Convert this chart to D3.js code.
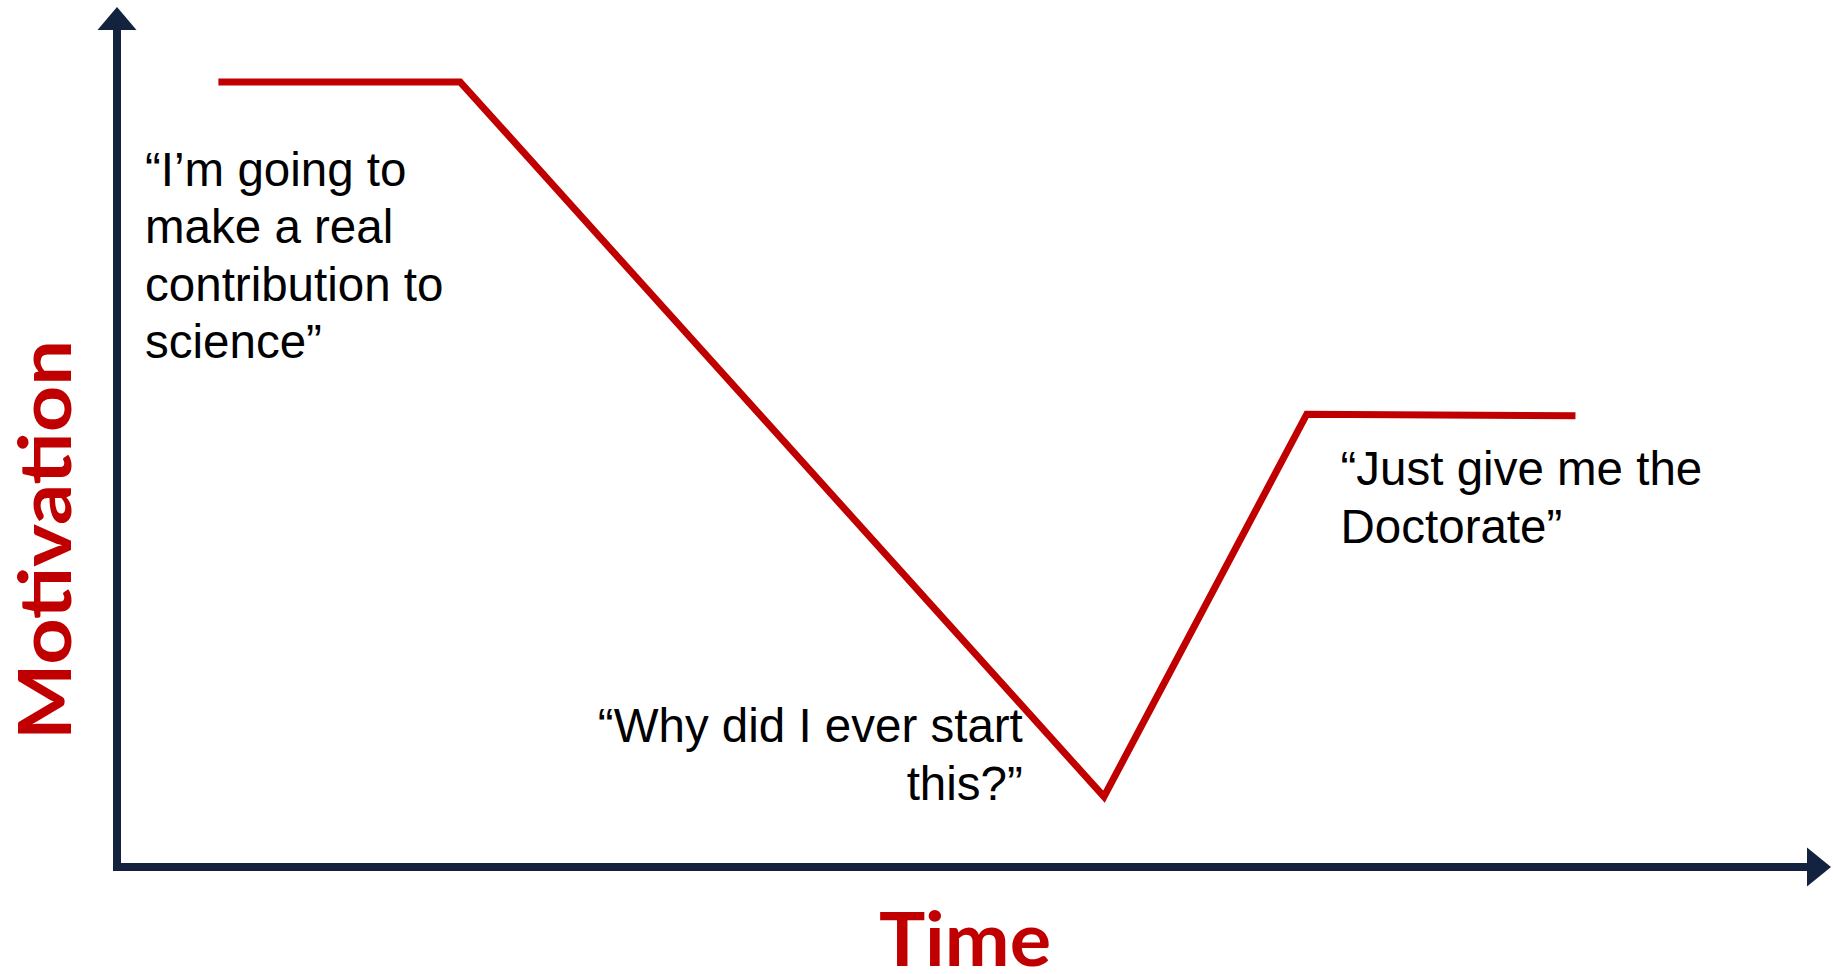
<!DOCTYPE html>
<html>
<head>
<meta charset="utf-8">
<script src="https://cdn.jsdelivr.net/npm/d3@7"></script>
<style>
  body { margin: 0; background: #fff; }
  .quote { font-family: "Liberation Sans", Arial, sans-serif; font-size: 47.5px; fill: #000; }
  .axis-title { font-family: Lato, "Open Sans", sans-serif; font-weight: 700; fill: #C00000; }
</style>
</head>
<body>
<svg id="chart"></svg>
<script>
const width = 1833, height = 974;

// motivation over time (arbitrary 0-100 units)
const timeVals = [6.0, 20.3, 58.4, 70.4, 86.3];
const motivationVals = [93.8, 93.8, 8.4, 54.1, 53.9];

// quotes placed in data units (t, m = first baseline)
const quotes = [
  {lines: ["\u201CI\u2019m going to", "make a real", "contribution to", "science\u201D"], t: 1.66, m: 81.4, anchor: "start"},
  {lines: ["\u201CWhy did I ever start", "this?\u201D"], t: 53.6, m: 14.9, anchor: "end"},
  {lines: ["\u201CJust give me the", "Doctorate\u201D"], t: 72.4, m: 45.6, anchor: "start"}
];

const xLabel = "Time";
const yLabel = "Motivation";

let padding = {top: 30, right: 26, bottom: 107, left: 117};

const axisCol = "#13233F";
const lineCol = "#C00000";

let svg = d3.select("#chart")
  .attr("width", width)
  .attr("height", height);

let x = d3.scaleLinear()
  .domain([0, 100])
  .range([padding.left, width - padding.right]);

let y = d3.scaleLinear()
  .domain([0, 100])
  .range([height - padding.bottom, padding.top]);

// axes with arrow heads
svg.append("line")
  .attr("x1", x(0)).attr("y1", y(0) + 4)
  .attr("x2", x(0)).attr("y2", y(100))
  .attr("stroke", axisCol)
  .attr("stroke-width", 8);

svg.append("path")
  .attr("d", d3.line()([[x(0) - 19.5, y(100)], [x(0) + 19.5, y(100)], [x(0), y(100) - 23]]))
  .attr("fill", axisCol);

svg.append("line")
  .attr("x1", x(0) - 4).attr("y1", y(0))
  .attr("x2", x(100)).attr("y2", y(0))
  .attr("stroke", axisCol)
  .attr("stroke-width", 8);

svg.append("path")
  .attr("d", d3.line()([[x(100), y(0) - 19.5], [x(100), y(0) + 19.5], [x(100) + 24, y(0)]]))
  .attr("fill", axisCol);

// the motivation line
svg.append("path")
  .datum(d3.zip(timeVals, motivationVals))
  .attr("fill", "none")
  .attr("stroke", lineCol)
  .attr("stroke-width", 7)
  .attr("stroke-linejoin", "miter")
  .attr("d", d3.line()
    .x(d => x(d[0]))
    .y(d => y(d[1])));

// quotes
quotes.forEach(function(q) {
  let t = svg.append("text")
    .attr("class", "quote")
    .attr("text-anchor", q.anchor);
  q.lines.forEach(function(l, i) {
    t.append("tspan")
      .attr("x", x(q.t))
      .attr("y", y(q.m) + i * 57.5)
      .text(l);
  });
});

// axis titles
svg.append("text")
  .attr("class", "axis-title")
  .attr("x", 965)
  .attr("y", 966)
  .attr("text-anchor", "middle")
  .style("font-size", "75px")
  .attr("textLength", 172)
  .attr("lengthAdjust", "spacingAndGlyphs")
  .text(xLabel);

svg.append("text")
  .attr("class", "axis-title")
  .attr("transform", "rotate(-90)")
  .attr("x", -540)
  .attr("y", 71)
  .attr("text-anchor", "middle")
  .style("font-size", "72px")
  .attr("textLength", 400)
  .attr("lengthAdjust", "spacingAndGlyphs")
  .text(yLabel);
</script>
</body>
</html>
